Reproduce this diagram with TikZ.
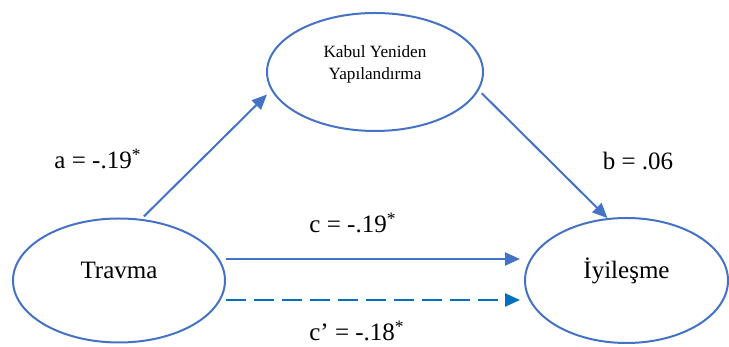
\documentclass[tikz,border=0pt]{standalone}
\usepackage{fontspec}
\setmainfont{Liberation Serif}
\usetikzlibrary{shapes.geometric,arrows.meta,positioning}
\definecolor{linkblue}{HTML}{4472C4}
\definecolor{dashblue}{HTML}{0070C0}
\tikzset{
  construct/.style={ellipse,draw=linkblue,line width=1pt,inner sep=0pt},
  coef/.style={font=\fontsize{12.5}{15}\selectfont,inner sep=1pt},
  >={Triangle[length=7.5pt,width=6.5pt]},
}

\begin{document}
\begin{tikzpicture}[x=0.5pt,y=0.5pt]
  \useasboundingbox (0,0) rectangle (729,347);
  % variables
  \node[construct,minimum width=106pt,minimum height=62pt]   (trv) at (119,66.5) {};
  \node[construct,minimum width=108pt,minimum height=59pt]   (kyp) at (375,275) {};
  \node[construct,minimum width=101.5pt,minimum height=62.5pt] (iyi) at (626.5,66.5) {};
  \node[coef] (trvtxt) at ([yshift=5pt]trv.center) {Travma};
  \node[font=\fontsize{8.6}{11}\selectfont,align=center,inner sep=0pt] (kyptxt) at ([yshift=4pt]kyp.center) {Kabul Yeniden\\Yapılandırma};
  \node[coef] (iyitxt) at ([yshift=5pt]iyi.center) {İyileşme};
  % coefficients
  \node[coef] (alab)  at (98,188)  {a = -.19\textsuperscript{*}};
  \node[coef] (blab)  at (638,186) {b = .06};
  \node[coef] (clab)  at (353,124) {c = -.19\textsuperscript{*}};
  \node[coef] (cplab) at (357,16)  {c’ = -.18\textsuperscript{*}};
  % paths
  \path[->,linkblue,line width=1pt]
    (trv.70) edge[shorten <=1.75pt,shorten >=3pt] (kyp.190)
    (kyp.350) edge[shorten <=2pt] (iyi.107)
    ([yshift=10.75pt]trv.east) edge[shorten >=2pt] ([yshift=10.75pt]iyi.west);
  \draw[->,dashblue,line width=1.25pt,dash pattern=on 10pt off 4pt,shorten >=2pt]
    ([yshift=-9.75pt]trv.east) -- ([yshift=-9.75pt]iyi.west);
\end{tikzpicture}
\end{document}
